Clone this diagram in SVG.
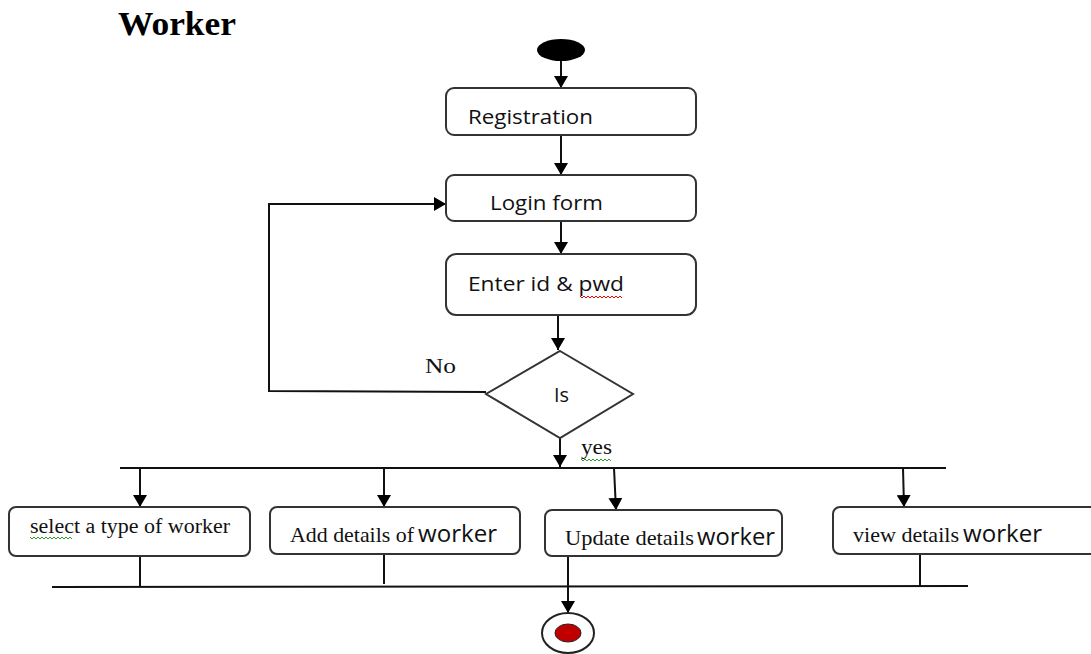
<svg xmlns="http://www.w3.org/2000/svg" width="1091" height="654" viewBox="0 0 1091 654">
  <defs>
    <marker id="arrow" viewBox="0 0 12 14" refX="12" refY="7" markerWidth="12" markerHeight="14" markerUnits="userSpaceOnUse" orient="auto">
      <path d="M0,0 L12,7 L0,14 Z" fill="#000"/>
    </marker>
    <style>
      .box { fill: #fff; stroke: #333; stroke-width: 2; }
      .line { fill: none; stroke: #111; stroke-width: 2; }
      .bar { fill: none; stroke: #111; stroke-width: 2; }
      .sans { font-family: "Open Sans", "Liberation Sans", sans-serif; font-size: 20px; fill: #111; }
      .serif { font-family: "Liberation Serif", serif; font-size: 20px; fill: #111; }
      .lbl-serif { font-family: "Liberation Serif", serif; font-size: 21px; fill: #111; }
      .lbl-sans { font-family: "Open Sans", "Liberation Sans", sans-serif; font-size: 23px; fill: #111; }
      .title { font-family: "Liberation Serif", serif; font-size: 33px; font-weight: bold; fill: #000; }
      .wavy-green { fill: none; stroke: #2a9d2a; stroke-width: 1; }
      .wavy-red { fill: none; stroke: #e00; stroke-width: 1; }
    </style>
  </defs>

  <rect width="1091" height="654" fill="#fff"/>

  <text class="title" x="118" y="35" textLength="118" lengthAdjust="spacingAndGlyphs">Worker</text>

  <!-- connectors -->
  <g id="connectors">
    <line class="line" x1="561" y1="61" x2="561" y2="88" marker-end="url(#arrow)"/>
    <line class="line" x1="561" y1="135" x2="561" y2="175" marker-end="url(#arrow)"/>
    <line class="line" x1="561" y1="221" x2="561" y2="254" marker-end="url(#arrow)"/>
    <line class="line" x1="558" y1="315" x2="558" y2="350" marker-end="url(#arrow)"/>
    <!-- "No" loop back to the login form -->
    <polyline class="line" points="486,392 269,391 269,204 446,204" marker-end="url(#arrow)"/>
    <!-- "yes" into the fork -->
    <line class="line" x1="560" y1="438" x2="560" y2="467" marker-end="url(#arrow)"/>
    <!-- fork bar and branches -->
    <line class="bar" x1="120" y1="468" x2="946" y2="468"/>
    <line class="line" x1="140" y1="468" x2="140" y2="507" marker-end="url(#arrow)"/>
    <line class="line" x1="384" y1="468" x2="384" y2="507" marker-end="url(#arrow)"/>
    <line class="line" x1="614" y1="468" x2="616" y2="510" marker-end="url(#arrow)"/>
    <line class="line" x1="903" y1="468" x2="904" y2="507" marker-end="url(#arrow)"/>
    <!-- join bar and incoming lines -->
    <line class="bar" x1="52" y1="587" x2="968" y2="586"/>
    <line class="line" x1="140" y1="556" x2="140" y2="587"/>
    <line class="line" x1="384" y1="554" x2="384" y2="584"/>
    <line class="line" x1="920" y1="554" x2="920" y2="586"/>
    <line class="line" x1="568" y1="556" x2="568" y2="613" marker-end="url(#arrow)"/>
  </g>

  <!-- start node -->
  <g id="start">
    <ellipse cx="561" cy="50" rx="24" ry="11" fill="#000"/>
  </g>

  <g id="registration">
    <rect class="box" x="446" y="88" width="250" height="47" rx="8"/>
    <text class="sans" x="468" y="124" textLength="125" lengthAdjust="spacingAndGlyphs">Registration</text>
  </g>

  <g id="login">
    <rect class="box" x="446" y="175" width="250" height="46" rx="8"/>
    <text class="sans" x="490" y="210" textLength="113" lengthAdjust="spacingAndGlyphs">Login form</text>
  </g>

  <g id="enter-credentials">
    <rect class="box" x="446" y="254" width="250" height="61" rx="10"/>
    <text class="sans" x="468" y="291" textLength="156" lengthAdjust="spacingAndGlyphs">Enter id &amp; pwd</text>
    <path class="wavy-red" d="M580,296 l2,2 l2,-2 l2,2 l2,-2 l2,2 l2,-2 l2,2 l2,-2 l2,2 l2,-2 l2,2 l2,-2 l2,2 l2,-2 l2,2 l2,-2 l2,2 l2,-2 l2,2 l2,-2 l2,2"/>
  </g>

  <g id="decision">
    <polygon class="box" points="560,351 633,394 560,438 486,394"/>
    <text class="sans" x="554" y="402" textLength="15" lengthAdjust="spacingAndGlyphs">Is</text>
    <text class="serif" x="425" y="373" textLength="31" lengthAdjust="spacingAndGlyphs">No</text>
    <text class="serif" x="581" y="454" textLength="31" lengthAdjust="spacingAndGlyphs">yes</text>
    <path class="wavy-green" d="M581,459 l2,2 l2,-2 l2,2 l2,-2 l2,2 l2,-2 l2,2 l2,-2 l2,2 l2,-2 l2,2 l2,-2 l2,2 l2,-2 l2,2"/>
  </g>

  <g id="select-type">
    <rect class="box" x="9" y="507" width="241" height="49" rx="7"/>
    <text class="serif" x="30" y="533" font-size="19" textLength="200" lengthAdjust="spacingAndGlyphs">select a type of worker</text>
    <path class="wavy-green" d="M30,537 l2,2 l2,-2 l2,2 l2,-2 l2,2 l2,-2 l2,2 l2,-2 l2,2 l2,-2 l2,2 l2,-2 l2,2 l2,-2 l2,2 l2,-2 l2,2 l2,-2 l2,2 l2,-2 l2,2"/>
  </g>

  <g id="add-details">
    <rect class="box" x="270" y="507" width="250" height="47" rx="7"/>
    <text class="lbl-serif" x="290" y="542" textLength="124" lengthAdjust="spacingAndGlyphs">Add details of</text>
    <text class="lbl-sans" x="418" y="542" textLength="79" lengthAdjust="spacingAndGlyphs">worker</text>
  </g>

  <g id="update-details">
    <rect class="box" x="545" y="510" width="237" height="46" rx="7"/>
    <text class="lbl-serif" x="565" y="545" textLength="129" lengthAdjust="spacingAndGlyphs">Update details</text>
    <text class="lbl-sans" x="697" y="545" textLength="78" lengthAdjust="spacingAndGlyphs">worker</text>
  </g>

  <g id="view-details">
    <rect class="box" x="833" y="507" width="270" height="47" rx="7"/>
    <text class="lbl-serif" x="853" y="542" textLength="106" lengthAdjust="spacingAndGlyphs">view details</text>
    <text class="lbl-sans" x="963" y="542" textLength="79" lengthAdjust="spacingAndGlyphs">worker</text>
  </g>

  <!-- end node -->
  <g id="end">
    <ellipse cx="568" cy="633" rx="26" ry="20" fill="#fff" stroke="#222" stroke-width="2"/>
    <ellipse cx="568" cy="633" rx="13" ry="9" fill="#c00000" stroke="#222" stroke-width="1"/>
  </g>
</svg>
